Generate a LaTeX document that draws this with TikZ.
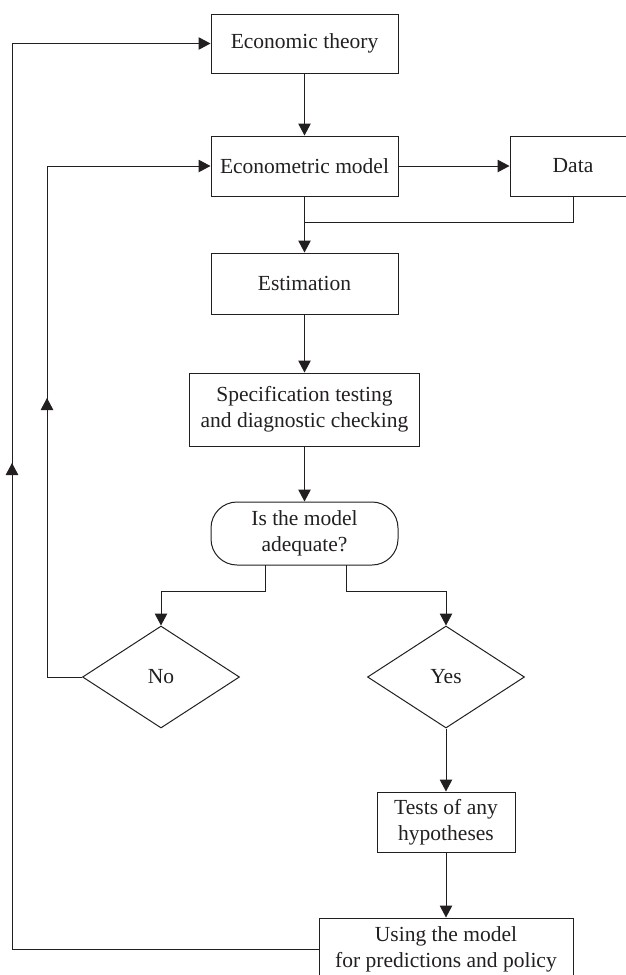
\documentclass[tikz,border=0pt]{standalone}
\usepackage{fontspec}
\setmainfont{Liberation Serif}
\usetikzlibrary{arrows.meta,shapes.geometric}
\definecolor{ink}{RGB}{35,31,32}
\begin{document}
\begin{tikzpicture}[x=1pt,y=-1pt,
  line width=1pt, draw=ink,
  box/.style={draw=ink, rectangle, inner sep=0pt, align=center, font=\fontsize{21.5}{26}\selectfont, text=ink},
  rbox/.style={box, rounded corners=26pt},
  dia/.style={draw=ink, diamond, inner sep=0pt, aspect=1.53, minimum width=157pt, minimum height=102pt, font=\fontsize{21.5}{26}\selectfont, text=ink},
  arr/.style={-{Triangle[length=12pt,width=12.5pt]}}
]
\useasboundingbox (0,0) rectangle (626,975);
\node[box, minimum width=187pt, minimum height=59pt] (econ) at (304.5,43.5) {Economic theory};
\node[box, minimum width=187pt, minimum height=60pt] (model) at (304.5,166) {Econometric model};
\node[box, minimum width=126pt, minimum height=60pt] (data) at (573,166) {Data};
\node[box, minimum width=187pt, minimum height=61pt] (est) at (304.5,283.5) {Estimation};
\node[box, minimum width=230pt, minimum height=73pt] (spec) at (304.5,409.5) {Specification testing\\and diagnostic checking};
\node[rbox, minimum width=187pt, minimum height=63pt] (adq) at (304.5,533.5) {Is the model\\adequate?};
\node[dia] (no) at (161,677) {No};
\node[dia] (yes) at (446,677) {Yes};
\node[box, minimum width=138pt, minimum height=60pt] (tests) at (446,822) {Tests of any\\hypotheses};
\node[box, minimum width=254pt, minimum height=63pt] (use) at (446,949.5) {Using the model\\for predictions and policy};

\coordinate (jn) at (304.5,222);
\coordinate (dj) at (573,222);
\coordinate (al) at (265,565);
\coordinate (alb) at (265,591);
\coordinate (nob) at (161,591);
\coordinate (ar) at (346,565);
\coordinate (arb) at (346,591);
\coordinate (yesb) at (446,591);
\coordinate (nl) at (47,677);
\coordinate (nt) at (47,166);
\coordinate (nm) at (47,398);
\coordinate (ol) at (12,949.5);
\coordinate (ot) at (12,43.5);
\coordinate (om) at (12,463);

\draw[arr] (econ.south) -- (model.north);
\draw[arr] (model.east) -- (data.west);
\draw[arr] (model.south) -- (est.north);
\draw (data.south) -- (dj) -- (jn);
\draw[arr] (est.south) -- (spec.north);
\draw[arr] (spec.south) -- (adq.north);
\draw[arr] (al) -- (alb) -- (nob) -- (no.north);
\draw[arr] (ar) -- (arb) -- (yesb) -- (yes.north);
\draw[arr] (yes.south) -- (tests.north);
\draw[arr] (tests.south) -- (use.north);
\draw[arr] (no.west) -- (nl) -- (nt) -- (model.west);
\draw[arr] (nl) -- (nm);
\draw[arr] (use.west) -- (ol) -- (ot) -- (econ.west);
\draw[arr] (ol) -- (om);
\end{tikzpicture}
\end{document}
